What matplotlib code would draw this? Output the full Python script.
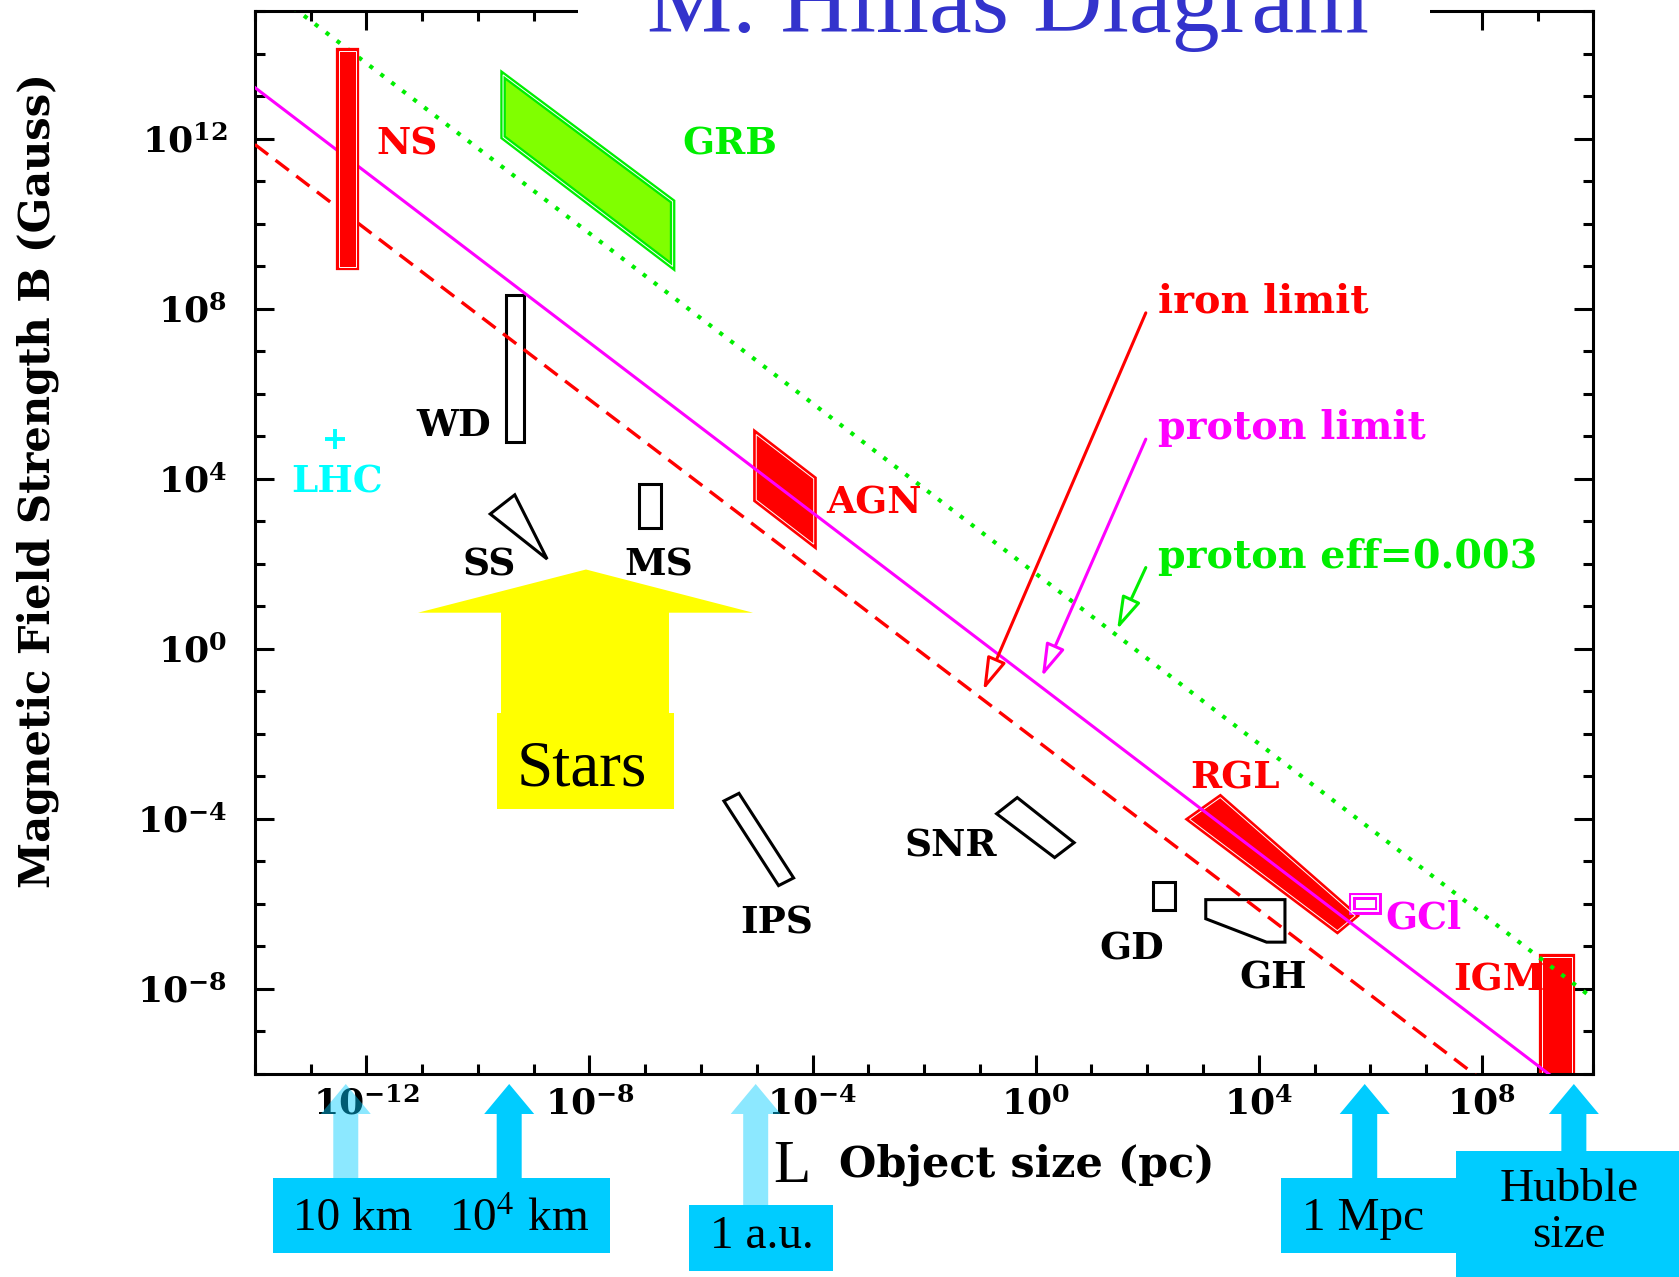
import matplotlib
matplotlib.use("Agg")
import matplotlib.pyplot as plt
import numpy as np
from matplotlib.patches import Polygon, Rectangle

plt.rcParams['mathtext.fontset'] = 'dejavuserif'

W, H = 1679, 1277

# axis ranges: object size L (pc) and field B (Gauss)
L_lim = (1e-14, 1e10)
B_lim = (1e-10, 1e15)
x_major_exp = [-12, -8, -4, 0, 4, 8]
y_major_exp = [-8, -4, 0, 4, 8, 12]

# limit lines, read at the two ends of the x range
line_L = [1e-14, 1e10]
proton_B = [10**13.2, 10**-10.8]
iron_B = [10**11.86, 10**-12.14]
eff_B = [10**15.77, 10**-8.23]

# source regions (log10 L, log10 B)
ns_L = [-12.50, -12.18, -12.18, -12.50]
ns_B = [14.05, 14.05, 8.99, 8.99]
grb_L = [-9.55, -6.51, -6.51, -9.55]
grb_B = [13.50, 10.52, 8.99, 12.03]
wd_L = [-9.49, -9.18, -9.18, -9.49]
wd_B = [8.31, 8.31, 4.86, 4.86]
ss_L = [-9.78, -9.34, -8.76]
ss_B = [3.17, 3.62, 2.11]
ms_L = [-7.11, -6.71, -6.71, -7.11]
ms_B = [3.87, 3.87, 2.83, 2.83]
agn_L = [-5.01, -3.98, -3.98, -5.01]
agn_B = [5.04, 4.00, 2.46, 3.50]
ips_L = [-5.59, -5.32, -4.34, -4.61]
ips_B = [-3.58, -3.40, -5.39, -5.57]
snr_L = [-0.70, -0.33, 0.69, 0.34]
snr_B = [-3.88, -3.50, -4.56, -4.91]
gd_L = [2.11, 2.49, 2.49, 2.11]
gd_B = [-5.49, -5.49, -6.15, -6.15]
gh_L = [3.05, 4.47, 4.47, 4.14, 3.05]
gh_B = [-5.90, -5.90, -6.90, -6.90, -6.35]
rgl_L = [2.76, 3.31, 5.73, 5.41]
rgl_B = [-4.01, -3.50, -6.28, -6.63]
gcl_L = [5.67, 6.13, 6.13, 5.67]
gcl_B = [-5.81, -5.81, -6.17, -6.17]
igm_L = [9.08, 9.62, 9.62, 9.08]
igm_B = [-7.26, -7.26, -10.0, -10.0]
lhc_L, lhc_B = -12.56, 4.93

labels = ['NS', 'GRB', 'WD', 'LHC', 'SS', 'MS', 'AGN', 'IPS', 'SNR', 'GD', 'GH', 'RGL', 'GCl', 'IGM']
label_L = [-11.28, -5.48, -10.43, -12.53, -9.80, -6.76, -2.90, -4.65, -1.52, 1.72, 4.26, 3.57, 6.95, 8.30]
label_B = [11.86, 11.86, 5.24, 3.92, 1.96, 1.96, 3.42, -6.45, -4.64, -7.05, -7.75, -3.05, -6.34, -7.79]
label_col = ['#ff0000', '#00ee00', 'black', '#00ffff', 'black', 'black', '#ff0000',
             'black', 'black', 'black', 'black', '#ff0000', '#ff00ff', '#ff0000']

# limit annotations: text, colour, arrow start, arrow tip (log10)
notes = ['iron limit', 'proton limit', 'proton eff=0.003']
note_col = ['#ff0000', '#ff00ff', '#00ee00']
note_start_B = [7.90, 4.93, 1.91]
note_tip_L = [-0.94, 0.11, 1.46]
note_tip_B = [-0.98, -0.66, 0.45]

# size scale marks under the x axis
scale_L = [10**-12.37, 10**-9.44, 10**-5.02, 10**5.90, 10**9.65]
scale_text = ['10 km', '10$^4$ km', '1 a.u.', '1 Mpc', 'Hubble\nsize']


def fx(x):
    return x / W


def fy(y):
    return 1 - y / H


fig = plt.figure(figsize=(W / 100, H / 100), dpi=100)
ax = fig.add_axes([0.1518, 0.1590, 0.7972, 0.8324])
ax.set_xscale('log')
ax.set_yscale('log')
ax.set_xlim(*L_lim)
ax.set_ylim(*B_lim)

ax.set_xticks([10.0**e for e in x_major_exp])
ax.set_xticks([10.0**e for e in range(-14, 11)], minor=True)
ax.set_yticks([10.0**e for e in y_major_exp])
ax.set_yticks([10.0**e for e in range(-10, 16)], minor=True)
ax.set_xticklabels([r'$\mathbf{10^{%d}}$' % e for e in x_major_exp])
ax.set_yticklabels([r'$\mathbf{10^{%d}}$' % e for e in y_major_exp])
ax.set_xticklabels([], minor=True)
ax.set_yticklabels([], minor=True)
ax.tick_params(which='both', direction='in', top=True, right=True, width=2.2, labelsize=26)
ax.tick_params(which='major', length=14)
ax.tick_params(which='minor', length=7)
ax.tick_params(axis='y', pad=20)
ax.tick_params(axis='x', pad=9)
for s in ax.spines.values():
    s.set_linewidth(2.2)

ax.set_ylabel('Magnetic Field Strength B (Gauss)', family='DejaVu Serif',
              weight='bold', fontsize=30)
ax.yaxis.set_label_coords(-0.162, 0.558)
ax.yaxis.label.set_va('center')
ax.set_xlabel('Object size (pc)', family='DejaVu Serif', weight='bold', fontsize=31)
ax.xaxis.set_label_coords(0.577, -0.0856)
ax.xaxis.label.set_va('center')

# limit lines
ax.plot(line_L, proton_B, color='#ff00ff', lw=2.2, zorder=3)
ax.plot(line_L, iron_B, color='#ff0000', lw=2.4, ls=(0, (5, 2.8)), zorder=3)
ax.plot(line_L, eff_B, color='#00ee00', lw=3.0, ls=(0, (1.0, 2.3)), zorder=3)


def region(lx, lb, fc, ec, lw=2.2, z=2, inner=None, inner_lw=0.7):
    pts = list(zip(10**np.array(lx), 10**np.array(lb)))
    ax.add_patch(Polygon(pts, closed=True, fc=fc, ec=ec, lw=lw, zorder=z,
                         fill=fc != 'none'))
    if inner:
        ax.add_patch(Polygon(pts, closed=True, fill=False, ec=inner,
                             lw=inner_lw, zorder=z + 0.1))


region(ns_L, ns_B, '#ff0000', '#ff0000', lw=4.5, z=4, inner='white')
region(grb_L, grb_B, '#80ff00', '#00ee00', lw=4, inner='white')
region(agn_L, agn_B, '#ff0000', '#ff0000', lw=4.5, inner='white')
region(rgl_L, rgl_B, '#ff0000', '#ff0000', lw=4.5, inner='white')
region(igm_L, igm_B, '#ff0000', '#ff0000', lw=4.5, inner='white')
region(gcl_L, gcl_B, 'none', '#ff00ff', lw=5, inner='white', inner_lw=1.4)
for lx, lb in [(wd_L, wd_B), (ss_L, ss_B), (ms_L, ms_B), (ips_L, ips_B),
               (snr_L, snr_B), (gd_L, gd_B), (gh_L, gh_B)]:
    region(lx, lb, 'none', 'black', lw=2.2)

ax.plot(10**lhc_L, 10**lhc_B, marker='+', ms=15, mew=2.8, color='#00ffff', zorder=4)

for t, lx, lb, c in zip(labels, label_L, label_B, label_col):
    ax.text(10**lx, 10**lb, t, color=c, family='DejaVu Serif', weight='bold',
            fontsize=27, ha='center', va='center', zorder=6)

for t, c, sb, tl, tb in zip(notes, note_col, note_start_B, note_tip_L, note_tip_B):
    ax.text(10**2.20, 10**sb, t, color=c, family='DejaVu Serif', weight='bold',
            fontsize=28.5, ha='left', va='baseline', zorder=6)
    ax.annotate('', xy=(10**tl, 10**tb), xytext=(10**1.975, 10**sb),
                arrowprops=dict(arrowstyle='-|>,head_length=1.0,head_width=0.3',
                                mutation_scale=20, lw=2.2, ec=c, fc='white',
                                shrinkA=0, shrinkB=0), zorder=6)

# yellow "Stars" arrow
star_px = [(586, 569.5), (753, 612.7), (669, 612.7), (669, 713), (674, 713), (674, 809),
           (497, 809), (497, 713), (501, 713), (501, 612.7), (418, 612.7)]
ax.add_patch(Polygon([(fx(x), fy(y)) for x, y in star_px], closed=True, fc='#ffff00',
                     ec='none', transform=fig.transFigure, zorder=1))
ax.text(fx(582), fy(785), 'Stars', transform=fig.transFigure, family='Liberation Serif',
        fontsize=47, ha='center', va='baseline', zorder=6)

# title with white mask over the top frame
fig.patches.append(Rectangle((fx(578), fy(48)), fx(1430) - fx(578), fy(0) - fy(48),
                             transform=fig.transFigure, fc='white', ec='none', zorder=5))
fig.text(fx(1008), fy(32), 'M. Hillas Diagram', color='#3333cc', family='Liberation Serif',
         fontsize=69, ha='center', va='baseline', zorder=6)

# blue size markers below the x axis
blue = '#00ccff'
box_px = [(273, 1178, 610, 1253), (688.5, 1205, 833, 1271), (1281, 1178, 1456, 1253),
          (1456, 1151, 1679, 1277)]
for x0, y0, x1, y1 in box_px:
    fig.patches.append(Rectangle((fx(x0), fy(y1)), fx(x1) - fx(x0), fy(y0) - fy(y1),
                                 transform=fig.transFigure, fc=blue, ec='none', zorder=5))

shaft_end = [1178, 1178, 1205, 1178, 1151]
arrow_alpha = [0.45, 1.0, 0.45, 1.0, 1.0]
text_pos = [(353, 1219), (519, 1219), (762, 1237), (1363, 1219), (1569, 1213)]
fig.canvas.draw()
for L, ye, a, t, (tx, ty) in zip(scale_L, shaft_end, arrow_alpha, scale_text, text_pos):
    xc = ax.transData.transform((L, 1.0))[0]
    arrow = [(xc, 1084), (xc + 25, 1114), (xc + 12.5, 1114), (xc + 12.5, ye),
             (xc - 12.5, ye), (xc - 12.5, 1114), (xc - 25, 1114)]
    fig.patches.append(Polygon([(fx(x), fy(y)) for x, y in arrow], closed=True, fc=blue,
                               ec='none', alpha=a, transform=fig.transFigure, zorder=5))
    fig.text(fx(tx), fy(ty), t, family='Liberation Serif', fontsize=34, ha='center',
             va='center', math_fontfamily='stix', linespacing=1.1, zorder=6)

fig.text(fx(792), fy(1167), 'L', family='Liberation Serif', fontsize=44,
         ha='center', va='center', zorder=6)

fig.savefig('out.png', dpi=100)
